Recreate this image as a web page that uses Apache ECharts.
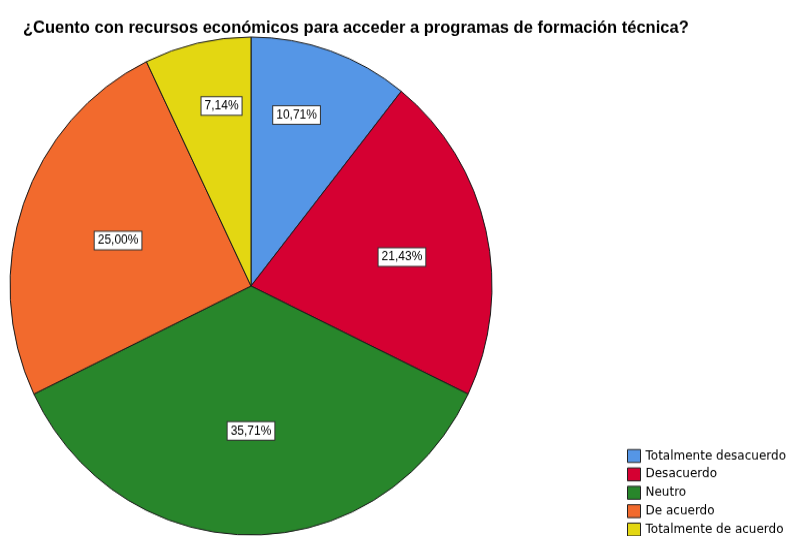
<!DOCTYPE html>
<html>
<head>
<meta charset="utf-8">
<script src="https://cdn.jsdelivr.net/npm/echarts@6/dist/echarts.min.js"></script>
<style>
html,body{margin:0;padding:0;background:#fff;overflow:hidden;}
#wrap{width:787px;height:536px;overflow:hidden;position:relative;}
#chart{width:787px;height:536px;transform-origin:0 286px;}
</style>
</head>
<body>
<div id="wrap"><div id="chart"></div></div>
<script>
const titleText = '¿Cuento con recursos económicos para acceder a programas de formación técnica?';
const categories = ['Totalmente desacuerdo', 'Desacuerdo', 'Neutro', 'De acuerdo', 'Totalmente de acuerdo'];
const percentages = [10.71, 21.43, 35.71, 25.00, 7.14];
const colors = ['#5596E6', '#D50032', '#28862B', '#F26A2D', '#E3D712'];
// label placement: [fraction of radius, angle clockwise from top in degrees]
const labelPolar = [[0.712, 15.4], [0.637, 79.5], [0.582, 180], [0.581, 288.3], [0.733, 350.4]];

// the reference pie is slightly taller than wide: draw a circle and stretch vertically
const CX = 251, CY = 286, R = 241, RY = 249;
const S = RY / R;
document.getElementById('chart').style.transform = 'scaleY(' + S + ')';
const preY = y => CY + (y - CY) / S;

const chart = echarts.init(document.getElementById('chart'), null, {renderer: 'canvas'});
chart.setOption({
  animation: false,
  backgroundColor: '#ffffff',
  color: colors,
  title: {
    text: titleText,
    left: 18,
    top: preY(14),
    textStyle: {fontFamily: 'Liberation Sans, Arial, sans-serif', fontSize: 16.5, fontWeight: 'bold', color: '#000'}
  },
  legend: {
    orient: 'vertical',
    left: 627,
    top: preY(449),
    padding: 0,
    itemWidth: 13,
    itemHeight: 12.5,
    itemGap: 4.3,
    icon: 'rect',
    data: categories,
    itemStyle: {borderColor: '#222', borderWidth: 1},
    textStyle: {fontFamily: 'DejaVu Sans, sans-serif', fontSize: 12, lineHeight: 12.5, color: '#000'}
  },
  series: [{
    type: 'pie',
    center: [CX, CY],
    radius: R,
    startAngle: 90,
    clockwise: true,
    silent: true,
    itemStyle: {borderColor: '#1a1a1a', borderWidth: 1},
    label: {
      show: true,
      position: 'inside',
      formatter: p => p.value.toFixed(2).replace('.', ',') + '%',
      fontFamily: 'Liberation Sans, Arial, sans-serif',
      fontSize: 12,
      lineHeight: 13,
      color: '#000',
      backgroundColor: '#fff',
      borderColor: '#333',
      borderWidth: 1,
      padding: [2, 3, 2, 3]
    },
    labelLine: {show: false},
    labelLayout: function (p) {
      const lp = labelPolar[p.dataIndex];
      const a = lp[1] * Math.PI / 180;
      const tx = CX + lp[0] * R * Math.sin(a);
      const ty = CY - lp[0] * R * Math.cos(a);
      const r = p.labelRect;
      return {dx: tx - (r.x + r.width / 2), dy: ty - (r.y + r.height / 2)};
    },
    data: categories.map((c, i) => ({name: c, value: percentages[i]}))
  }]
});
</script>
</body>
</html>
